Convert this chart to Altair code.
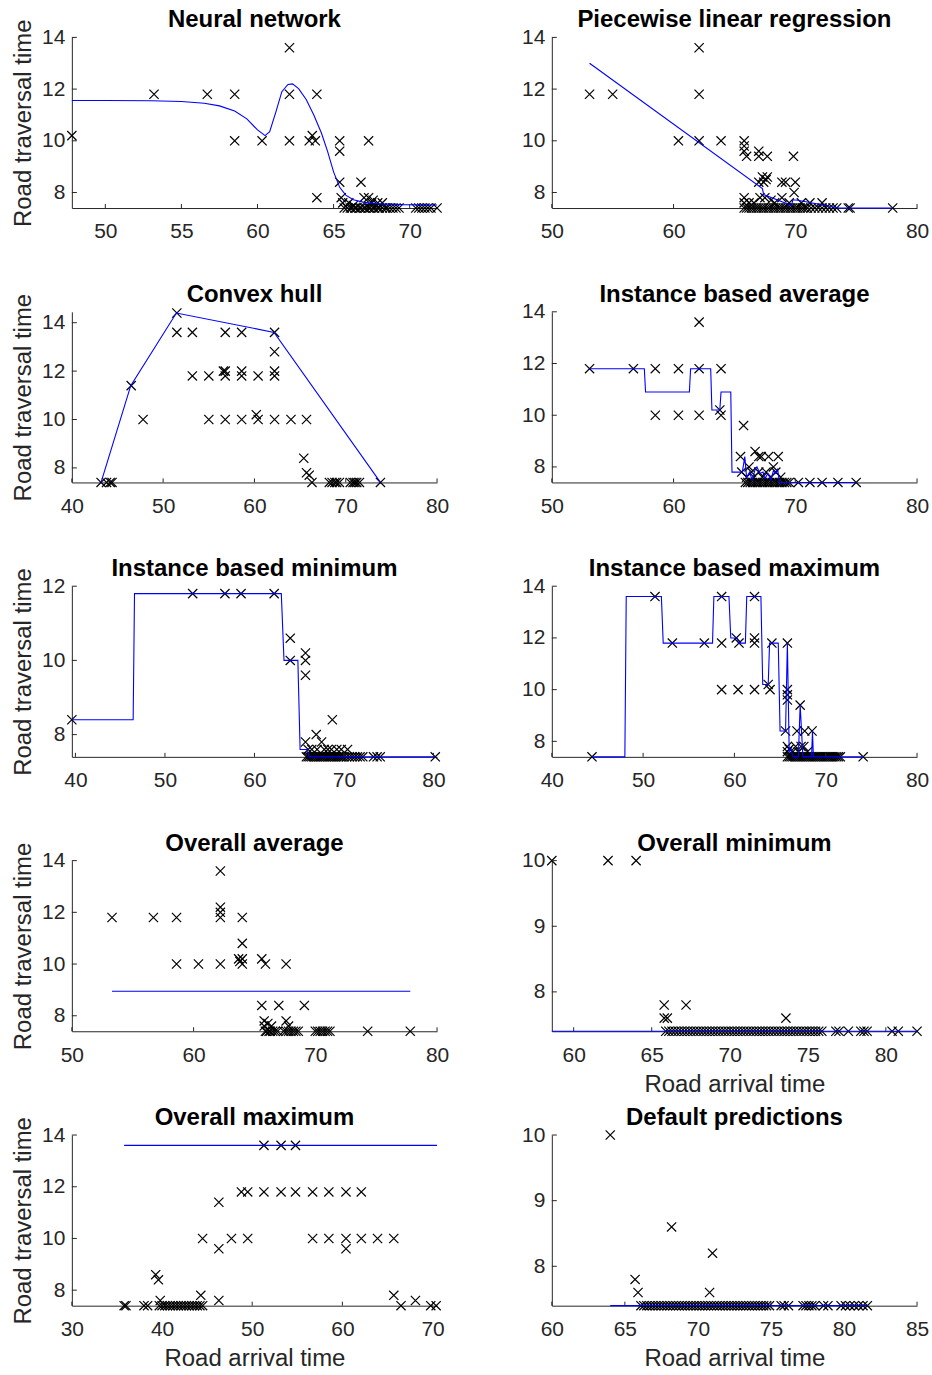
import altair as alt
import pandas as pd

FONT = "Liberation Sans"
AX = "#262626"
XPATH = "M-1,-1L1,1M-1,1L1,-1"
W, H = 366, 171

titles = ["Neural network", "Piecewise linear regression", "Convex hull",
          "Instance based average", "Instance based minimum", "Instance based maximum",
          "Overall average", "Overall minimum", "Overall maximum", "Default predictions"]
y_title = "Road traversal time"
x_title = "Road arrival time"

# ---------------- Neural network ----------------
nn_pts = [(47.8, 10.2), (53.2, 11.8), (56.7, 11.8), (58.5, 11.8), (58.5, 10.0), (60.3, 10.0),
          (62.1, 13.6), (62.1, 11.8), (62.1, 10.0), (63.9, 11.8), (63.4, 10.0), (63.6, 10.2),
          (63.8, 10.0), (63.9, 7.8), (65.4, 10.0), (65.4, 9.6), (65.4, 8.4), (65.5, 7.8),
          (65.6, 7.6), (66.8, 8.4), (67.3, 10.0), (67.0, 7.8), (67.3, 7.8), (67.6, 7.7),
          (66.0, 7.6), (66.3, 7.5), (67.9, 7.6), (68.2, 7.6), (67.5, 7.6),
          (65.7, 7.4), (65.9, 7.4), (66.1, 7.4), (66.2, 7.4), (66.4, 7.4), (66.5, 7.4),
          (66.7, 7.4), (66.8, 7.4), (67.0, 7.4), (67.1, 7.4), (67.3, 7.4), (67.4, 7.4),
          (67.6, 7.4), (67.7, 7.4), (67.9, 7.4), (68.0, 7.4), (68.2, 7.4), (68.4, 7.4),
          (68.5, 7.4), (68.7, 7.4), (68.9, 7.4), (69.1, 7.4), (69.3, 7.4), (70.4, 7.4),
          (70.6, 7.4), (70.8, 7.4), (71.0, 7.4), (71.2, 7.4), (71.4, 7.4), (71.8, 7.4)]
nn_line = [(47.8, 11.56), (50.0, 11.56), (53.0, 11.55), (55.0, 11.52), (56.5, 11.45),
           (57.5, 11.35), (58.5, 11.15), (59.3, 10.85), (60.0, 10.42), (60.5, 10.2),
           (60.8, 10.35), (61.2, 11.1), (61.6, 11.9), (62.0, 12.18), (62.3, 12.2),
           (62.7, 12.02), (63.2, 11.6), (63.7, 11.0), (64.2, 10.3), (64.6, 9.6),
           (65.0, 8.8), (65.4, 8.2), (65.8, 7.9), (66.3, 7.72), (67.0, 7.62),
           (68.0, 7.56), (69.5, 7.53), (71.8, 7.52)]

# ---------------- Piecewise linear regression ----------------
plr_pts = [(53.1, 11.8), (55.0, 11.8), (60.4, 10.0), (62.1, 13.6), (62.1, 11.8), (62.1, 10.0),
           (63.9, 10.0), (65.8, 10.0), (65.8, 9.8), (65.8, 9.6), (66.0, 9.4), (67.0, 9.6),
           (67.0, 9.4), (67.7, 9.4), (69.85, 9.4), (67.0, 8.4), (67.3, 8.6), (67.7, 8.6),
           (67.4, 8.4), (67.6, 8.5), (68.9, 8.4), (69.2, 8.4), (70.0, 8.4), (69.9, 8.0),
           (68.9, 7.8), (65.8, 7.8), (65.8, 7.6), (67.1, 7.8), (67.5, 7.8), (72.2, 7.6),
           (74.35, 7.4), (78.0, 7.4), (68.0, 7.7), (68.3, 7.6), (69.5, 7.6), (70.5, 7.6),
           (71.2, 7.6), (66.2, 7.6), (66.6, 7.6),
           (65.8, 7.4), (66.0, 7.4), (66.2, 7.4), (66.4, 7.4), (66.6, 7.4), (66.8, 7.4),
           (67.0, 7.4), (67.2, 7.4), (67.4, 7.4), (67.6, 7.4), (67.8, 7.4), (68.0, 7.4),
           (68.2, 7.4), (68.4, 7.4), (68.6, 7.4), (68.8, 7.4), (69.0, 7.4), (69.2, 7.4),
           (69.4, 7.4), (69.6, 7.4), (69.8, 7.4), (70.0, 7.4), (70.2, 7.4), (70.4, 7.4),
           (70.6, 7.4), (70.8, 7.4), (71.0, 7.4), (71.3, 7.4), (71.6, 7.4), (71.9, 7.4),
           (72.2, 7.4), (72.5, 7.4), (72.8, 7.4), (73.1, 7.4), (73.4, 7.4), (74.5, 7.4)]
plr_line = [(53.1, 13.0), (67.3, 8.15), (67.4, 7.92), (69.7, 7.5), (69.8, 7.72),
            (70.2, 7.7), (73.6, 7.4), (78.0, 7.4)]

# ---------------- Convex hull ----------------
ch_pts = [(43.2, 7.4), (43.8, 7.4), (44.2, 7.4), (44.4, 7.4), (46.5, 11.4), (47.8, 10.0),
          (51.5, 14.4), (51.5, 13.6), (53.2, 13.6), (53.2, 11.8), (55.0, 11.8), (55.0, 10.0),
          (56.8, 13.6), (56.6, 12.0), (56.8, 12.0), (56.8, 11.8), (56.8, 10.0), (58.6, 13.6),
          (58.6, 12.0), (58.6, 11.8), (58.6, 10.0), (60.2, 10.2), (60.4, 10.0), (60.4, 11.8),
          (62.2, 13.6), (62.2, 12.8), (62.2, 12.0), (62.2, 11.8), (62.2, 10.0), (64.0, 10.0),
          (65.7, 10.0), (65.4, 8.4), (65.7, 7.8), (66.0, 7.7), (66.3, 7.4), (68.2, 7.4),
          (68.5, 7.4), (68.8, 7.4), (69.0, 7.4), (69.3, 7.4), (70.5, 7.4), (70.8, 7.4),
          (71.0, 7.4), (71.2, 7.4), (71.5, 7.4), (73.8, 7.4)]
ch_line = [(43.2, 7.4), (46.45, 11.4), (51.45, 14.4), (62.15, 13.6), (73.8, 7.4)]

# ---------------- Instance based average ----------------
iba_pts = [(53.1, 11.8), (56.7, 11.8), (58.5, 11.8), (58.5, 10.0), (60.4, 11.8), (60.4, 10.0),
           (62.1, 13.6), (62.1, 11.8), (62.1, 10.0), (63.9, 11.8), (63.8, 10.2), (63.9, 10.0),
           (65.75, 9.6), (65.5, 8.4), (66.7, 8.6), (67.0, 8.4), (67.2, 8.4), (67.8, 8.4),
           (68.6, 8.4), (68.2, 8.0), (66.2, 8.0), (65.6, 7.8), (66.4, 7.8), (67.0, 7.8),
           (67.6, 7.8), (68.4, 7.8), (66.0, 7.6), (66.6, 7.6), (67.3, 7.6), (68.0, 7.6),
           (68.8, 7.6),
           (65.9, 7.4), (66.1, 7.4), (66.3, 7.4), (66.5, 7.4), (66.7, 7.4), (66.9, 7.4),
           (67.1, 7.4), (67.3, 7.4), (67.5, 7.4), (67.7, 7.4), (67.9, 7.4), (68.1, 7.4),
           (68.3, 7.4), (68.5, 7.4), (68.7, 7.4), (68.9, 7.4), (69.1, 7.4), (69.3, 7.4),
           (69.5, 7.4), (70.25, 7.4), (71.2, 7.4), (72.2, 7.4), (73.5, 7.4), (75.0, 7.4)]
iba_line = [(53.1, 11.8), (57.6, 11.8), (57.7, 10.9), (61.3, 10.9), (61.4, 11.8), (63.05, 11.8),
            (63.15, 10.2), (63.8, 10.2), (63.9, 10.9), (64.7, 10.9), (64.8, 7.8), (65.65, 7.8),
            (65.85, 8.4), (66.0, 7.6), (66.25, 7.8), (66.45, 7.5), (66.7, 7.9), (66.85, 8.0),
            (67.1, 7.75), (67.35, 7.8), (67.5, 7.55), (67.75, 7.75), (68.0, 7.5), (68.2, 7.85),
            (68.4, 7.75), (68.55, 7.9), (68.7, 7.4), (75.0, 7.4)]

# ---------------- Instance based minimum ----------------
ibmin_pts = [(39.6, 8.4), (53.1, 11.8), (56.7, 11.8), (58.5, 11.8), (62.2, 11.8), (64.0, 10.6),
             (64.0, 10.0), (65.7, 10.2), (65.7, 10.0), (65.7, 9.6), (65.7, 7.8), (66.9, 8.0),
             (67.5, 7.8), (68.7, 8.4), (66.0, 7.6), (66.4, 7.6), (67.0, 7.6), (67.8, 7.6),
             (68.2, 7.6), (68.6, 7.6), (69.2, 7.6), (69.7, 7.6), (70.4, 7.6),
             (65.8, 7.4), (66.0, 7.4), (66.2, 7.4), (66.4, 7.4), (66.6, 7.4), (66.8, 7.4),
             (67.0, 7.4), (67.2, 7.4), (67.4, 7.4), (67.6, 7.4), (67.8, 7.4), (68.0, 7.4),
             (68.2, 7.4), (68.4, 7.4), (68.6, 7.4), (68.8, 7.4), (69.0, 7.4), (69.2, 7.4),
             (69.4, 7.4), (69.6, 7.4), (69.8, 7.4), (70.0, 7.4), (70.3, 7.4), (70.6, 7.4),
             (70.9, 7.4), (71.2, 7.4), (71.5, 7.4), (71.8, 7.4), (72.1, 7.4), (73.3, 7.4),
             (73.7, 7.4), (74.05, 7.4), (80.2, 7.4)]
ibmin_line = [(39.6, 8.4), (46.45, 8.4), (46.6, 11.8), (63.0, 11.8), (63.3, 10.0), (64.85, 10.0),
              (65.1, 7.6), (65.9, 7.6), (66.1, 7.4), (80.2, 7.4)]

# ---------------- Instance based maximum ----------------
ibmax_pts = [(44.4, 7.4), (51.3, 13.6), (53.2, 11.8), (56.7, 11.8), (58.6, 13.6), (58.6, 11.8),
             (58.6, 10.0), (60.4, 10.0), (60.2, 12.0), (60.5, 11.8), (62.2, 13.6), (62.2, 12.0),
             (62.2, 11.8), (62.2, 10.0), (63.7, 10.2), (63.9, 10.0), (64.1, 11.8), (65.8, 11.8),
             (65.8, 10.0), (65.8, 9.8), (65.8, 9.6), (65.6, 8.4), (67.2, 9.4), (66.85, 8.4),
             (67.7, 8.4), (68.5, 8.4), (65.8, 7.8), (65.8, 7.6), (66.0, 7.7), (66.7, 7.8),
             (67.3, 7.8), (67.6, 7.8), (66.4, 7.6), (67.0, 7.6), (68.0, 7.6),
             (65.8, 7.4), (66.0, 7.4), (66.2, 7.4), (66.4, 7.4), (66.6, 7.4), (66.8, 7.4),
             (67.0, 7.4), (67.2, 7.4), (67.4, 7.4), (67.6, 7.4), (67.8, 7.4), (68.0, 7.4),
             (68.2, 7.4), (68.4, 7.4), (68.6, 7.4), (68.8, 7.4), (69.0, 7.4), (69.2, 7.4),
             (69.4, 7.4), (69.6, 7.4), (69.8, 7.4), (70.0, 7.4), (70.2, 7.4), (70.4, 7.4),
             (70.6, 7.4), (70.8, 7.4), (71.0, 7.4), (71.2, 7.4), (71.4, 7.4), (71.6, 7.4),
             (74.1, 7.4)]
ibmax_line = [(44.4, 7.4), (48.0, 7.4), (48.15, 13.6), (52.0, 13.6), (52.2, 11.8), (57.6, 11.8),
              (57.75, 13.6), (59.4, 13.6), (59.6, 12.0), (60.3, 12.0), (60.45, 11.8), (61.2, 11.8),
              (61.35, 13.6), (62.9, 13.6), (63.1, 10.2), (63.7, 10.2), (63.85, 11.8), (64.8, 11.8),
              (65.0, 8.4), (65.6, 8.4), (65.8, 11.8), (66.0, 7.6), (66.2, 7.7), (66.4, 7.4),
              (67.0, 7.4), (67.2, 9.4), (67.5, 7.4), (68.45, 7.4), (68.55, 8.4), (68.65, 7.4),
              (74.1, 7.4)]

# ---------------- Overall average ----------------
oavg_pts = [(53.3, 11.8), (56.7, 11.8), (58.6, 11.8), (58.6, 10.0), (60.4, 10.0), (62.2, 13.6),
            (62.2, 12.2), (62.2, 12.0), (62.2, 11.8), (62.2, 10.0), (64.0, 11.8), (64.0, 10.8),
            (63.7, 10.2), (63.8, 10.1), (64.0, 10.2), (64.0, 10.0), (65.6, 10.2), (65.9, 10.0),
            (67.6, 10.0), (65.6, 8.4), (67.0, 8.4), (69.1, 8.4), (65.8, 7.8), (67.6, 7.8),
            (65.8, 7.6), (66.1, 7.7), (66.4, 7.6), (67.8, 7.6),
            (65.9, 7.4), (66.0, 7.4), (66.2, 7.4), (66.3, 7.4), (66.5, 7.4), (66.7, 7.4),
            (66.9, 7.4), (67.4, 7.4), (67.6, 7.4), (67.8, 7.4), (68.0, 7.4), (68.2, 7.4),
            (68.4, 7.4), (68.6, 7.4), (70.0, 7.4), (70.2, 7.4), (70.4, 7.4), (70.6, 7.4),
            (70.8, 7.4), (71.0, 7.4), (71.2, 7.4), (74.3, 7.4), (77.8, 7.4)]
oavg_line = [(53.3, 8.95), (77.8, 8.95)]

# ---------------- Overall minimum ----------------
omin_pts = [(58.6, 10.0), (62.2, 10.0), (64.0, 10.0), (65.8, 7.8), (65.8, 7.6), (66.0, 7.6),
            (67.2, 7.8), (73.6, 7.6),
            (65.9, 7.4), (66.1, 7.4), (66.3, 7.4), (66.5, 7.4), (66.7, 7.4), (66.9, 7.4),
            (67.1, 7.4), (67.3, 7.4), (67.5, 7.4), (67.7, 7.4), (67.9, 7.4), (68.1, 7.4),
            (68.3, 7.4), (68.5, 7.4), (68.7, 7.4), (68.9, 7.4), (69.1, 7.4), (69.3, 7.4),
            (69.5, 7.4), (69.7, 7.4), (69.9, 7.4), (70.1, 7.4), (70.3, 7.4), (70.5, 7.4),
            (70.7, 7.4), (70.9, 7.4), (71.1, 7.4), (71.3, 7.4), (71.5, 7.4), (71.7, 7.4),
            (71.9, 7.4), (72.1, 7.4), (72.3, 7.4), (72.5, 7.4), (72.7, 7.4), (72.9, 7.4),
            (73.1, 7.4), (73.3, 7.4), (73.5, 7.4), (73.7, 7.4), (73.9, 7.4), (74.1, 7.4),
            (74.3, 7.4), (74.5, 7.4), (74.7, 7.4), (74.9, 7.4), (75.1, 7.4), (75.3, 7.4),
            (75.5, 7.4), (75.7, 7.4), (75.9, 7.4), (76.8, 7.4), (77.0, 7.4), (77.6, 7.4),
            (78.4, 7.4), (78.6, 7.4), (78.8, 7.4), (80.4, 7.4), (80.8, 7.4), (82.0, 7.4)]
omin_line = [(58.6, 7.4), (82.0, 7.4)]

# ---------------- Overall maximum ----------------
omax_pts = [(35.8, 7.4), (36.0, 7.4), (38.0, 7.4), (38.4, 7.4), (39.3, 8.6), (39.6, 8.4),
            (39.8, 7.6), (44.3, 7.8), (44.5, 10.0), (46.3, 11.4), (46.3, 9.6), (46.3, 7.6),
            (47.7, 10.0), (48.8, 11.8), (49.5, 11.8), (49.5, 10.0), (51.3, 13.6), (51.3, 11.8),
            (53.2, 13.6), (53.2, 11.8), (54.8, 13.6), (54.8, 11.8), (56.7, 11.8), (56.7, 10.0),
            (58.5, 11.8), (58.5, 10.0), (60.4, 11.8), (60.4, 10.0), (60.4, 9.6), (62.1, 11.8),
            (62.1, 10.0), (63.9, 10.0), (65.7, 10.0), (65.7, 7.8), (66.5, 7.4), (68.1, 7.6),
            (69.8, 7.4), (70.4, 7.4),
            (39.7, 7.4), (40.0, 7.4), (40.3, 7.4), (40.6, 7.4), (40.9, 7.4), (41.2, 7.4),
            (41.5, 7.4), (41.8, 7.4), (42.1, 7.4), (42.4, 7.4), (42.7, 7.4), (43.0, 7.4),
            (43.3, 7.4), (43.6, 7.4), (43.9, 7.4), (44.2, 7.4), (44.5, 7.4)]
omax_line = [(35.8, 13.6), (70.5, 13.6)]

# ---------------- Default predictions ----------------
dp_pts = [(64.0, 10.0), (65.7, 7.8), (65.9, 7.6), (68.2, 8.6), (71.0, 8.2), (70.8, 7.6),
          (66.1, 7.4), (66.3, 7.4), (66.5, 7.4), (66.7, 7.4), (66.9, 7.4), (67.1, 7.4),
          (67.3, 7.4), (67.5, 7.4), (67.7, 7.4), (67.9, 7.4), (68.1, 7.4), (68.3, 7.4),
          (68.5, 7.4), (68.7, 7.4), (68.9, 7.4), (69.1, 7.4), (69.3, 7.4), (69.5, 7.4),
          (69.7, 7.4), (69.9, 7.4), (70.1, 7.4), (70.3, 7.4), (70.5, 7.4), (70.7, 7.4),
          (70.9, 7.4), (71.1, 7.4), (71.3, 7.4), (71.5, 7.4), (71.7, 7.4), (71.9, 7.4),
          (72.1, 7.4), (72.3, 7.4), (72.5, 7.4), (72.7, 7.4), (72.9, 7.4), (73.1, 7.4),
          (73.3, 7.4), (73.5, 7.4), (73.7, 7.4), (73.9, 7.4), (74.1, 7.4), (74.3, 7.4),
          (74.5, 7.4), (74.7, 7.4), (74.9, 7.4), (75.7, 7.4), (75.9, 7.4), (76.2, 7.4),
          (77.2, 7.4), (77.4, 7.4), (77.6, 7.4), (77.8, 7.4), (78.0, 7.4), (78.6, 7.4),
          (78.9, 7.4), (79.8, 7.4), (80.1, 7.4), (80.4, 7.4), (80.7, 7.4), (81.0, 7.4),
          (81.3, 7.4), (81.6, 7.4)]
dp_line = [(64.0, 7.4), (81.6, 7.4)]

# axis domains and ticks per panel
x_domains = [[47.8, 71.8], [50, 80], [40, 80], [50, 80], [39.6, 80.4], [40, 80],
             [50, 80], [58.6, 82.0], [30, 70.5], [60, 85]]
y_domains = [[7.4, 14], [7.4, 14], [7.4, 14.45], [7.4, 14], [7.4, 12], [7.4, 14],
             [7.4, 14], [7.4, 10], [7.4, 14], [7.4, 10]]
x_ticks = [[50, 55, 60, 65, 70], [50, 60, 70, 80], [40, 50, 60, 70, 80], [50, 60, 70, 80],
           [40, 50, 60, 70, 80], [40, 50, 60, 70, 80], [50, 60, 70, 80],
           [60, 65, 70, 75, 80], [30, 40, 50, 60, 70], [60, 65, 70, 75, 80, 85]]
y_ticks = [[8, 10, 12, 14], [8, 10, 12, 14], [8, 10, 12, 14], [8, 10, 12, 14], [8, 10, 12],
           [8, 10, 12, 14], [8, 10, 12, 14], [8, 9, 10], [8, 10, 12, 14], [8, 9, 10]]
show_y_title = [True, False, True, False, True, False, True, False, True, False]
show_x_title = [False, False, False, False, False, False, False, True, True, True]

all_pts = [nn_pts, plr_pts, ch_pts, iba_pts, ibmin_pts, ibmax_pts, oavg_pts, omin_pts, omax_pts, dp_pts]
all_lines = [nn_line, plr_line, ch_line, iba_line, ibmin_line, ibmax_line, oavg_line, omin_line, omax_line, dp_line]


def panel(i):
    xs = alt.Scale(domain=x_domains[i], nice=False, zero=False)
    ys = alt.Scale(domain=y_domains[i], nice=False, zero=False)
    xa = alt.Axis(values=x_ticks[i], labelFlush=False, labelOverlap=False,
                  title=x_title if show_x_title[i] else None)
    ya = alt.Axis(values=y_ticks[i], labelOverlap=False,
                  title=y_title if show_y_title[i] else None)
    X = alt.X("x:Q", scale=xs, axis=xa)
    Y = alt.Y("y:Q", scale=ys, axis=ya)
    dpts = pd.DataFrame(all_pts[i], columns=["x", "y"])
    dl = pd.DataFrame(all_lines[i], columns=["x", "y"])
    dl["o"] = list(range(len(dl)))
    scat = alt.Chart(dpts).mark_point(shape=XPATH, size=85, filled=False, stroke="black",
                                      strokeWidth=1.2, opacity=1).encode(x=X, y=Y)
    ln = alt.Chart(dl).mark_line(color="#0000FF", strokeWidth=1.1).encode(x=X, y=Y, order="o:Q")
    xt = alt.Chart(pd.DataFrame({"x": x_ticks[i]})).mark_rule(color=AX, strokeWidth=1).encode(
        x=X, y=alt.value(H), y2=alt.value(H - 4))
    yt = alt.Chart(pd.DataFrame({"y": y_ticks[i]})).mark_rule(color=AX, strokeWidth=1).encode(
        y=Y, x=alt.value(0), x2=alt.value(5))
    ttl = alt.Chart(pd.DataFrame({"t": [titles[i]]})).mark_text(
        font=FONT, fontSize=24, fontWeight="bold", color="black", align="center",
        baseline="alphabetic").encode(text="t:N", x=alt.value(W / 2), y=alt.value(-10))
    return alt.layer(scat, ln, xt, yt, ttl).properties(width=W, height=H)


chart = alt.concat(*[panel(i) for i in range(10)], columns=2,
                   spacing={"row": 104, "column": 115}, bounds="flush").properties(
    padding={"left": 11, "top": 6, "right": 2, "bottom": 2}
).configure_view(stroke="transparent").configure_axis(
    domainColor=AX, domainWidth=1, labelColor=AX, labelFont=FONT, labelFontSize=21,
    titleFont=FONT, titleFontSize=24, titleFontWeight="normal", titleColor=AX,
    grid=False, ticks=False
).configure_axisX(labelPadding=13, titlePadding=7).configure_axisY(labelPadding=7, titlePadding=6)

chart.save("out.html", embed_options={"renderer": "svg", "actions": False})
